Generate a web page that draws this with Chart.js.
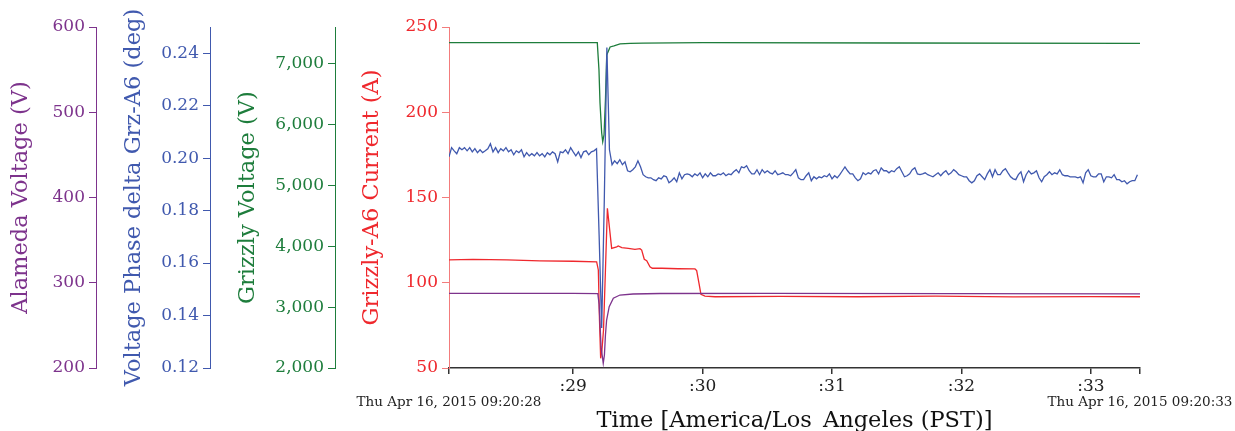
<!DOCTYPE html>
<html>
<head>
<meta charset="utf-8">
<script src="https://cdn.jsdelivr.net/npm/chart.js@4.4.1/dist/chart.umd.min.js"></script>
<style>
  html, body { margin: 0; padding: 0; background: #fff; }
</style>
</head>
<body>
<canvas id="graph-grizzly" width="1235" height="431"></canvas>
<script>
// seconds after 09:20
const xMin = 28.04;
const xMax = 33.38;
const xTickValues = [28.04, 29, 30, 31, 32, 33, 33.38];
const startLabel = 'Thu Apr 16, 2015 09:20:28';
const endLabel = 'Thu Apr 16, 2015 09:20:33';

const alamedaTicks = [200, 300, 400, 500, 600];
const phaseTicks = [0.12, 0.14, 0.16, 0.18, 0.20, 0.22, 0.24];
const grizzlyTicks = [2000, 3000, 4000, 5000, 6000, 7000];
const currentTicks = [50, 100, 150, 200, 250];

// Alameda Voltage (V)
const alamedaTimes = [28.04, 29.0, 29.19, 29.2, 29.215, 29.232, 29.241, 29.249, 29.258, 29.278, 29.31, 29.361, 29.462, 29.671, 30.5, 33.38];
const alamedaValues = [287.6, 287.6, 287.3, 275, 225, 205.5, 215, 238.7, 256.3, 271.9, 281.8, 285.6, 286.8, 287.4, 287.6, 287.0];

// Grizzly Voltage (V)
const grizzlyTimes = [28.04, 29.186, 29.199, 29.207, 29.22, 29.228, 29.238, 29.249, 29.259, 29.285, 29.315, 29.362, 29.44, 29.54, 30.0, 31.5, 33.38];
const grizzlyValues = [7350, 7350, 6901, 6358, 5865, 5722, 5832, 6408, 7148, 7280, 7296, 7329, 7338, 7342, 7352, 7345, 7340];

// Grizzly-A6 Current (A)
const currentTimes = [28.04, 28.225, 28.488, 28.743, 29.0, 29.181, 29.194, 29.203, 29.212, 29.222, 29.234, 29.249, 29.264, 29.297, 29.336, 29.348, 29.375, 29.426, 29.477, 29.516, 29.529, 29.549, 29.568, 29.593, 29.611, 29.684, 29.812, 29.941, 29.954, 29.972, 29.987, 30.018, 30.096, 30.6, 31.2, 31.8, 32.4, 33.0, 33.38];
const currentValues = [113.4, 113.7, 113.4, 112.8, 112.6, 112.3, 107.5, 78.2, 55.7, 60.6, 72.3, 107.5, 143.7, 120.2, 121.1, 121.6, 120.6, 120.2, 119.6, 120.0, 119.2, 113.8, 112.9, 109.4, 108.5, 108.5, 108.2, 108.1, 107.1, 99.7, 93.2, 92.2, 91.8, 92.0, 91.8, 92.1, 91.7, 91.9, 91.8];

// Voltage Phase delta Grz-A6 (deg), sampled every 0.02 s
const phaseStart = 28.04;
const phaseStep = 0.02;
const phaseValues = [
  .2005, .2040, .2028, .2017, .2040, .2032, .2040, .2028, .2040, .2024,
  .2036, .2021, .2032, .2021, .2028, .2036, .2055, .2024, .2040, .2021,
  .2036, .2028, .2040, .2024, .2032, .2013, .2028, .2021, .2032, .2005,
  .2021, .2009, .2017, .2009, .2021, .2009, .2017, .2005, .2021, .2013,
  .2024, .2017, .1986, .2024, .2021, .2032, .2017, .2040, .2024, .2009,
  .2024, .2002, .2024, .2028, .2013, .2024, .2028, .2036,
  .1708, .1353, .1837, .2422, .2032,
  .1975, .1990, .1979, .1994, .1975, .1986, .1952, .1948, .1956, .1967,
  .1990, .1967, .1937, .1929, .1925, .1925, .1918, .1914, .1925, .1921,
  .1933, .1929, .1906, .1914, .1925, .1910, .1944, .1921, .1937, .1940,
  .1937, .1929, .1940, .1933, .1944, .1925, .1940, .1929, .1944, .1933,
  .1933, .1940, .1937, .1944, .1933, .1940, .1937, .1948, .1956, .1944,
  .1967, .1963, .1971, .1952, .1940, .1940, .1956, .1937, .1956, .1944,
  .1952, .1944,
  .1940, .1952, .1937, .1940, .1944, .1937, .1937, .1933, .1944, .1956,
  .1925, .1918, .1918, .1933, .1944, .1914, .1929, .1921, .1929, .1925,
  .1933, .1929, .1940, .1921, .1933, .1925, .1937, .1952, .1967, .1952,
  .1940, .1940, .1925, .1914, .1921, .1944, .1937, .1944, .1940, .1952,
  .1956, .1940, .1963, .1952, .1952, .1944, .1952, .1948, .1960, .1967,
  .1948, .1929, .1933, .1940, .1956, .1963, .1940, .1937, .1940, .1944,
  .1937, .1933, .1929, .1937, .1944, .1933, .1944, .1952, .1937, .1944,
  .1956, .1948, .1937, .1933, .1929, .1929, .1914, .1906, .1914, .1933,
  .1940, .1929, .1918, .1940, .1956, .1929, .1956, .1937, .1937, .1952,
  .1960, .1944, .1929, .1921, .1918, .1937, .1948, .1910, .1937, .1952,
  .1940, .1944, .1952, .1925, .1910, .1929, .1937, .1948, .1937, .1944,
  .1940, .1956, .1937, .1933, .1933, .1929, .1929, .1929, .1925, .1929,
  .1906, .1944, .1956, .1933, .1929, .1929, .1940, .1940, .1910, .1929,
  .1929, .1925, .1937, .1918, .1918, .1910, .1914, .1902, .1910, .1914,
  .1914, .1937
];

const PURPLE = '#7d338c';
const BLUE = '#4059ae';
const GREEN = '#1e7d3c';
const RED = '#ef282d';
const FONT = "'DejaVu Serif', serif";

const pairs = (times, values) => times.map((t, i) => ({ x: t, y: values[i] }));
const phasePoints = phaseValues.map((v, i) => ({ x: +(phaseStart + i * phaseStep).toFixed(3), y: v }));

const fixTicks = (list) => (scale) => { scale.ticks = list.map(v => ({ value: v })); };
const fixWidth = (w) => (scale) => { scale.width = w; };

const yAxis = (color, lineColor, min, max, ticks, width, weight, title, titlePad, fmt) => ({
  type: 'linear',
  position: 'left',
  weight: weight,
  min: min,
  max: max,
  afterBuildTicks: fixTicks(ticks),
  afterFit: fixWidth(width),
  border: { display: true, color: lineColor, width: 1 },
  grid: { display: true, drawOnChartArea: false, drawTicks: true, tickLength: 7, color: lineColor, lineWidth: 1 },
  ticks: { color: color, padding: 4, font: { family: FONT, size: 17 }, callback: fmt },
  title: { display: true, text: title, color: color, font: { family: FONT, size: 22.5 }, padding: { top: titlePad, bottom: 0 } }
});

const endLabels = {
  id: 'endLabels',
  afterDraw(chart) {
    const { ctx, chartArea } = chart;
    const xs = chart.scales.x;
    ctx.save();
    ctx.font = "13.5px 'DejaVu Serif'";
    ctx.fillStyle = '#222';
    ctx.textAlign = 'center';
    ctx.textBaseline = 'middle';
    ctx.fillText(startLabel, chartArea.left, xs.top + 34);
    ctx.fillText(endLabel, chartArea.right, xs.top + 34);
    ctx.restore();
  }
};

const line = (data, color, axis) => ({
  data: data,
  borderColor: color,
  backgroundColor: color,
  borderWidth: 1.3,
  pointRadius: 0,
  fill: false,
  tension: 0,
  yAxisID: axis
});

const config = {
  type: 'line',
  data: {
    datasets: [
      line(pairs(alamedaTimes, alamedaValues), PURPLE, 'yAlameda'),
      line(phasePoints, BLUE, 'yPhase'),
      line(pairs(grizzlyTimes, grizzlyValues), GREEN, 'yGrizzly'),
      line(pairs(currentTimes, currentValues), RED, 'yCurrent')
    ]
  },
  options: {
    responsive: false,
    animation: false,
    devicePixelRatio: 1,
    layout: { padding: { top: 27, right: 95, left: 0, bottom: 0 } },
    plugins: { legend: { display: false }, tooltip: { enabled: false } },
    scales: {
      x: {
        type: 'linear',
        min: xMin,
        max: xMax,
        afterBuildTicks: fixTicks(xTickValues),
        afterFit: (scale) => { scale.height = 63; },
        border: { display: true, color: '#333', width: 1.5 },
        grid: { display: true, drawOnChartArea: false, tickLength: 6, color: '#333', lineWidth: 1.5 },
        ticks: {
          color: '#222', padding: 2, maxRotation: 0, autoSkip: false,
          font: { family: FONT, size: 17 },
          callback: (v) => Number.isInteger(v) ? ':' + v : ''
        },
        title: {
          display: true, text: 'Time [America/Los_Angeles (PST)]', color: '#111',
          font: { family: FONT, size: 22.5 }, padding: { top: 0, bottom: -4 }
        }
      },
      yAlameda: yAxis(PURPLE, PURPLE, 200, 600, alamedaTicks, 96, 3, 'Alameda Voltage (V)', 7.5, (v) => v),
      yPhase: yAxis(BLUE, BLUE, 0.12, 0.25, phaseTicks, 114, 2, 'Voltage Phase delta Grz-A6 (deg)', 24.5, (v) => v.toFixed(2)),
      yGrizzly: yAxis(GREEN, GREEN, 2000, 7608, grizzlyTicks, 125, 1, 'Grizzly Voltage (V)', 24.5, (v) => v.toLocaleString('en-US')),
      yCurrent: yAxis(RED, '#f37c7c', 50, 250, currentTicks, 114, 0, 'Grizzly-A6 Current (A)', 23.5, (v) => v)
    }
  },
  plugins: [endLabels]
};

const chart = new Chart(document.querySelector('#graph-grizzly'), config);
</script>
</body>
</html>
